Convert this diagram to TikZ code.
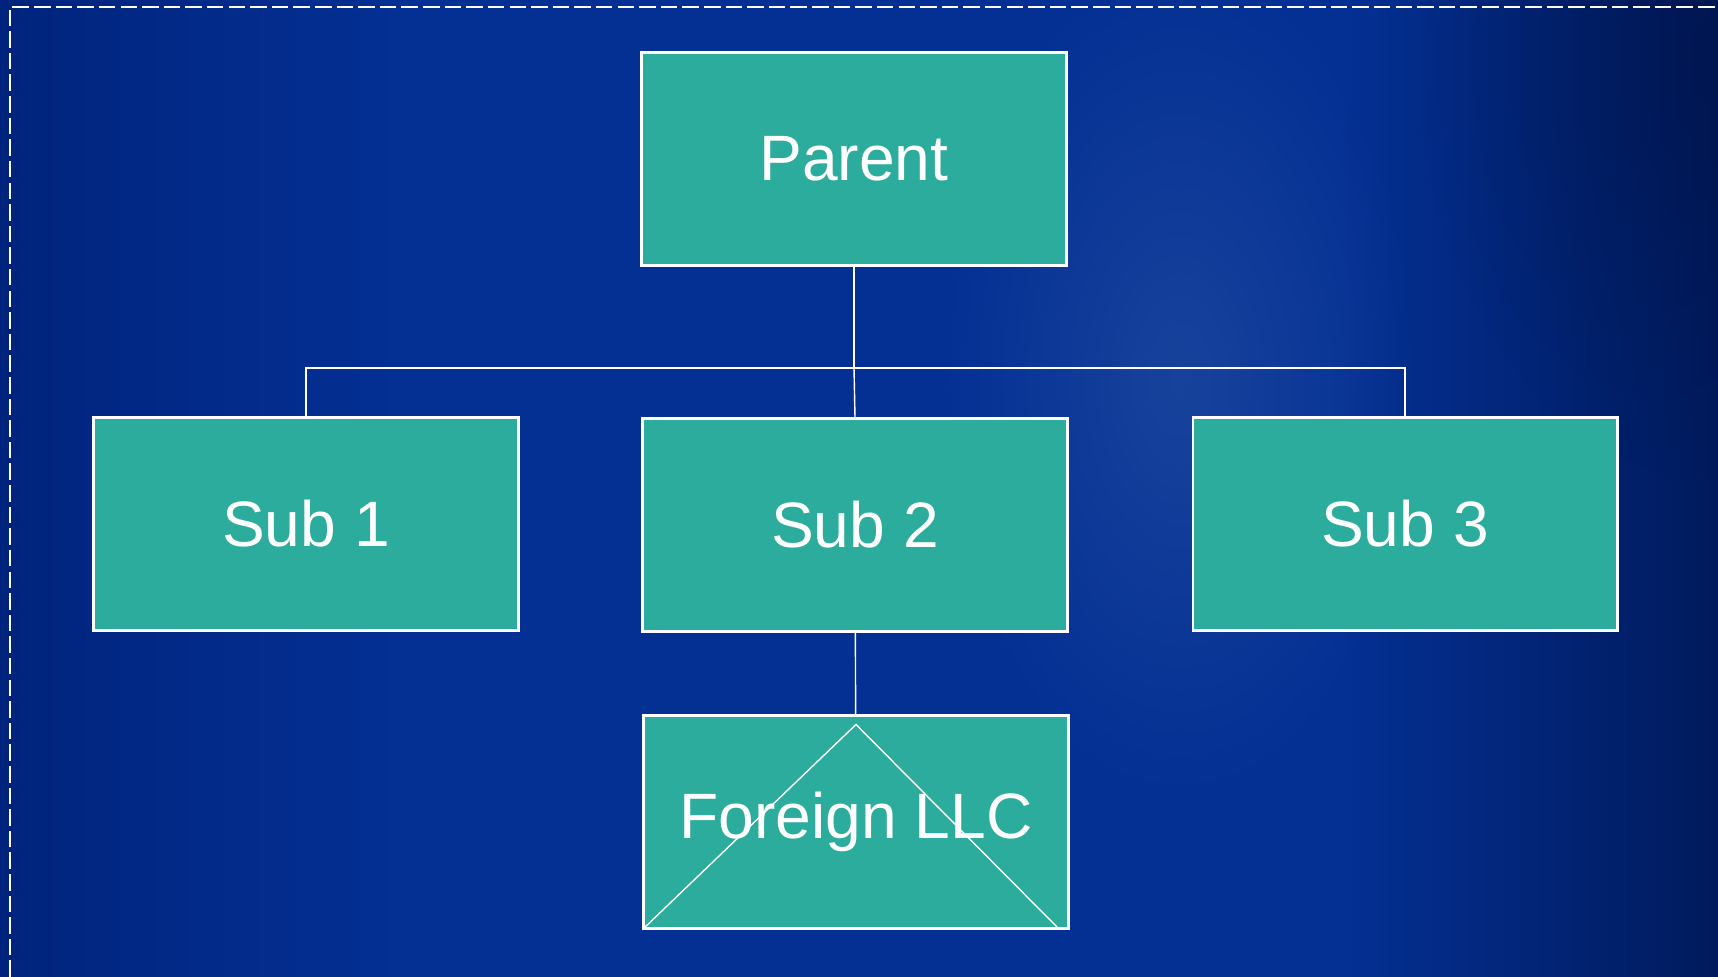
\documentclass[tikz,border=0pt]{standalone}
\usepackage{fontspec}
\setmainfont{Liberation Sans}
\usepackage{xcolor}
\usepackage{tikz}
\usetikzlibrary{positioning,calc,fadings}

\definecolor{bgleft}{RGB}{0,36,125}
\definecolor{bgmid}{RGB}{4,48,148}
\definecolor{bgright}{RGB}{0,26,92}
\definecolor{bgglow}{RGB}{70,110,175}
\definecolor{bgdark}{RGB}{0,18,70}
\definecolor{boxteal}{RGB}{44,172,156}

\pgfdeclarehorizontalshading{bgshade}{100bp}{color(0bp)=(bgleft); color(25bp)=(bgleft);
  color(37bp)=(bgmid); color(64bp)=(bgmid); color(75bp)=(bgright); color(100bp)=(bgright)}
\tikzfading[name=softglow, inner color=transparent!0, outer color=transparent!100]

\tikzset{
  orgbox/.style={draw=white, line width=1.2pt, fill=boxteal, text=white,
    minimum width=8.5cm, minimum height=4.26cm, inner sep=0pt,
    font=\fontsize{36.5}{44}\selectfont},
  link/.style={draw=white, line width=0.8pt}
}

\begin{document}
\begin{tikzpicture}[x=0.02cm,y=-0.02cm]
  % background
  \useasboundingbox (0,0) rectangle (1718,977);
  \shade[shading=bgshade] (0,0) rectangle (1718,977);
  \fill[bgglow, opacity=0.3, path fading=softglow] (1180,380) ellipse (240 and 420);
  \fill[bgdark, opacity=0.5, path fading=softglow] (1718,60) ellipse (300 and 420);
  \draw[white, line width=1.1pt, dash pattern=on 9.4pt off 2.9pt] (10,977) |- (1718,7);

  % boxes
  \node[orgbox] (parent) at (854,159) {Parent};
  \node[orgbox] (subone) at (306,524) {Sub 1};
  \node[orgbox] (subtwo) at (855,525) {Sub 2};
  \node[orgbox] (subthree) at (1405,524) {Sub 3};
  \node[orgbox] (foreign) at (856,822) {};

  % connectors
  \coordinate (bus) at (854,368);
  \draw[link] (parent) -- (bus);
  \draw[link] (subone.north) |- (bus) -| (subthree.north);
  \draw[link] (bus) -- (subtwo.north);
  \draw[link] (subtwo) -- (foreign);

  % crossed mark in foreign box
  \draw[link] (foreign.south west) -- ($(foreign.north)+(0,10)$)
    -- ($(foreign.south east)+(-10,0)$);
  \node[text=white, font=\fontsize{36.5}{44}\selectfont] (foreignlabel) at (foreign) {Foreign LLC};
\end{tikzpicture}
\end{document}
